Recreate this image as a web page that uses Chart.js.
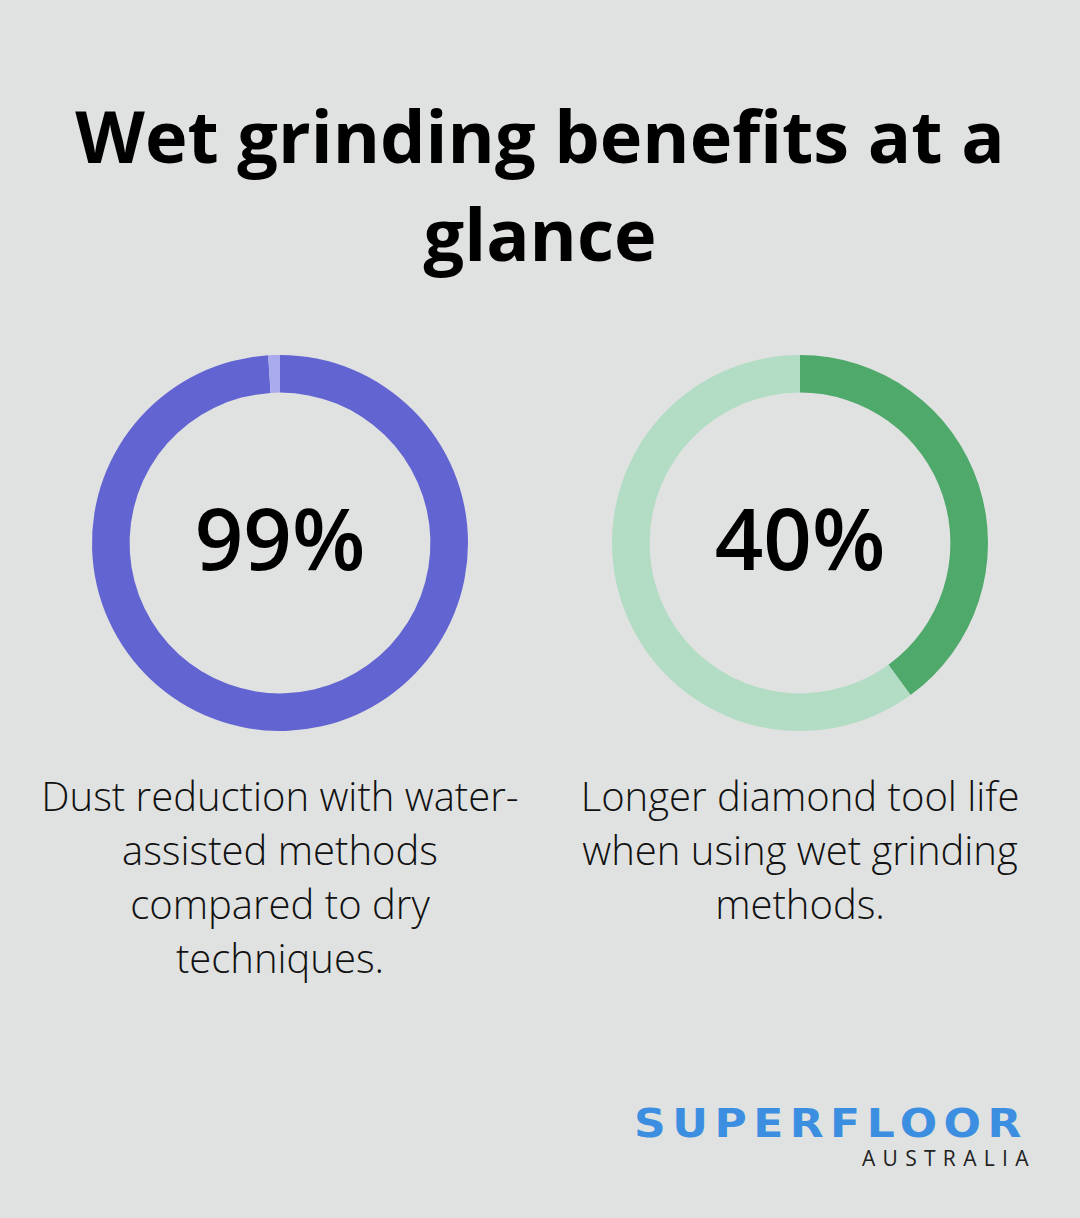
<!DOCTYPE html>
<html><head><meta charset="utf-8">
<script src="https://cdn.jsdelivr.net/npm/chart.js@4"></script>
<style>
body{margin:0;width:1080px;height:1218px;background:#e0e2e1;font-family:"Open Sans",sans-serif;position:relative;overflow:hidden}
h1{position:absolute;top:86px;left:0;width:1080px;margin:0;text-align:center;font-weight:700;font-size:72px;line-height:98px;color:#000}
.c{position:absolute;top:343px;width:400px;height:400px}
.v{position:absolute;top:337px;width:400px;height:400px;line-height:400px;text-align:center;font-size:85px;font-weight:600;color:#000}
.cap{position:absolute;top:769px;width:540px;text-align:center;font-size:40px;font-weight:300;line-height:54px;color:#111}
.logo1{position:absolute;left:634px;top:1100px;font-family:"DejaVu Sans";font-weight:700;font-size:44px;letter-spacing:6.5px;color:#3c8fe0;transform:scaleY(0.9);transform-origin:top left;white-space:nowrap}
.logo2{position:absolute;left:862px;top:1144px;font-size:21px;letter-spacing:7.3px;color:#222;white-space:nowrap}
</style></head><body>
<h1>Wet grinding benefits at a<br>glance</h1>
<div class="c" style="left:80px"><canvas id="a"></canvas></div>
<div class="c" style="left:600px"><canvas id="b"></canvas></div>
<div class="v" style="left:80px">99%</div>
<div class="v" style="left:600px">40%</div>
<div class="cap" style="left:10px">Dust reduction with water-<br>assisted methods<br>compared to dry<br>techniques.</div>
<div class="cap" style="left:530px">Longer diamond tool life<br>when using wet grinding<br>methods.</div>
<div class="logo1">SUPERFLOOR</div>
<div class="logo2">AUSTRALIA</div>
<script>
const labels=["Value","Remainder"];
const leftValues=[99,1];
const rightValues=[40,60];
function mk(id,data,colors){
 new Chart(document.getElementById(id),{type:'doughnut',
  data:{labels,datasets:[{data,backgroundColor:colors,borderWidth:0}]},
  options:{responsive:true,maintainAspectRatio:false,animation:false,cutout:'80%',
   layout:{padding:12},plugins:{legend:{display:false},tooltip:{enabled:false}}}});
}
mk('a',leftValues,['#6264d1','#aaabef']);
mk('b',rightValues,['#4ea96b','#b2dcc3']);
</script>
</body></html>
